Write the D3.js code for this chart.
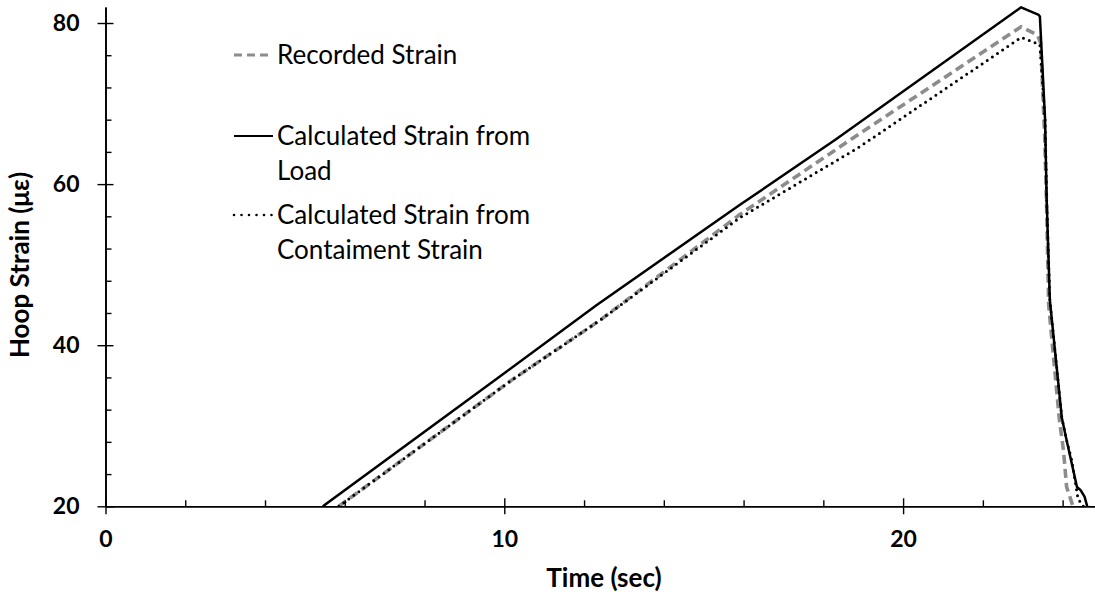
<!DOCTYPE html>
<html><head><meta charset="utf-8">
<script src="https://cdn.jsdelivr.net/npm/d3@7"></script>
<style>
body{margin:0;background:#fff;}
svg{display:block;font-family:Lato,"Open Sans",sans-serif;}
</style></head>
<body><svg id="c" width="1095" height="596"></svg>
<script>
// ---- data ----
const recordedTime   = [5.85, 10.18, 12.4, 15.9, 18.67, 22.96, 23.37, 23.45, 23.55, 23.6, 23.65, 23.92, 24.02, 24.10, 24.26, 24.32];
const recordedStrain = [20, 35.65, 43.1, 56.2, 65.47, 79.54, 78.5, 77.5, 66, 57, 45, 30.7, 27, 22.4, 20, 18];

const loadTime   = [5.45, 9.76, 12.31, 15.9, 18.3, 22.96, 23.4, 23.43, 23.56, 23.6, 23.68, 23.98, 24.10, 24.36, 24.45, 24.55, 24.7];
const loadStrain = [20, 35.65, 44.97, 57.4, 65.5, 81.95, 81.0, 80.8, 68, 58, 45.6, 31, 28.2, 22.4, 22.0, 21.2, 18.5];

const contTime   = [5.85, 10.18, 12.4, 15.9, 18.87, 22.96, 23.24, 23.43, 23.56, 23.6, 23.68, 23.98, 24.10, 24.23, 24.39, 24.5, 24.62];
const contStrain = [20, 35.65, 43.1, 55.8, 64.5, 78.2, 77.7, 77.3, 68, 58, 45.6, 31, 28.2, 25.7, 20.8, 20.3, 18.5];

const xMajorTicks = [0, 10, 20];
const xMinorTicks = [2, 4, 6, 8, 12, 14, 16, 18, 22, 24];
const yMajorTicks = [20, 40, 60, 80];
const yMinorTicks = [24, 28, 32, 36, 44, 48, 52, 56, 64, 68, 72, 76];

const legendNames = [["Recorded Strain"], ["Calculated Strain from", "Load"], ["Calculated Strain from", "Contaiment Strain"]];
const xTitle = "Time (sec)";
const yTitle = "Hoop Strain (με)";

// ---- layout ----
const svg = d3.select("#c");
const x = d3.scaleLinear().domain([0, 25]).range([105.5, 1102.5]);
const y = d3.scaleLinear().domain([20, 82]).range([506.3, 6.9]);

svg.append("clipPath").attr("id", "plot")
  .append("rect").attr("x", 105.5).attr("y", 0).attr("width", 1000).attr("height", 506.3);

const series = [
  {t: recordedTime, v: recordedStrain, color: "#8c8c8c", width: 3.6, dash: "9,5", cap: "butt"},
  {t: loadTime, v: loadStrain, color: "#000", width: 2.5, dash: null, cap: "butt"},
  {t: contTime, v: contStrain, color: "#000", width: 3, dash: "0,6.2", cap: "round"}
];

const line = d3.line().x(d => x(d[0])).y(d => y(d[1]));
const g = svg.append("g").attr("clip-path", "url(#plot)");
series.forEach(s => {
  g.append("path")
    .datum(s.t.map((t, i) => [t, s.v[i]]))
    .attr("d", line)
    .attr("fill", "none")
    .attr("stroke", s.color)
    .attr("stroke-width", s.width)
    .attr("stroke-linejoin", "round")
    .attr("stroke-linecap", s.cap)
    .attr("stroke-dasharray", s.dash);
});

// ---- axes ----
const axisStyle = sel => {
  sel.selectAll("path.domain").attr("stroke", "#000").attr("stroke-width", 1.6);
  sel.selectAll(".tick line").attr("stroke", "#000").attr("stroke-width", 1.4);
};

const xMinor = svg.append("g").attr("transform", `translate(0,${y(20)})`)
  .call(d3.axisBottom(x).tickValues(xMinorTicks).tickSize(-6).tickSizeOuter(0).tickFormat(""));
axisStyle(xMinor);
const xAx = svg.append("g").attr("transform", `translate(0,${y(20)})`)
  .call(d3.axisBottom(x).tickValues(xMajorTicks).tickSize(8).tickSizeOuter(0).tickPadding(16).tickFormat(d3.format("d")));
axisStyle(xAx);
xAx.selectAll(".tick line").attr("y1", -8).attr("y2", 8);
xAx.selectAll(".tick text").attr("font-size", 23).attr("font-weight", "bold").attr("fill", "#000")
  .attr("font-family", "Lato,sans-serif");

const yMinor = svg.append("g").attr("transform", `translate(${x(0)},0)`)
  .call(d3.axisLeft(y).tickValues(yMinorTicks).tickSize(-6).tickSizeOuter(0).tickFormat(""));
axisStyle(yMinor);
const yAx = svg.append("g").attr("transform", `translate(${x(0)},0)`)
  .call(d3.axisLeft(y).tickValues(yMajorTicks).tickSize(8).tickSizeOuter(0).tickPadding(18).tickFormat(d3.format("d")));
axisStyle(yAx);
yAx.selectAll(".tick line").attr("x1", -8).attr("x2", 8);
yAx.selectAll(".tick text").attr("font-size", 23).attr("font-weight", "bold").attr("fill", "#000")
  .attr("font-family", "Lato,sans-serif");

// titles
svg.append("text").attr("x", 604).attr("y", 587).attr("text-anchor", "middle")
  .attr("font-size", 26).attr("font-weight", "bold").text(xTitle);
svg.append("text").attr("transform", "translate(29,265) rotate(-90)").attr("text-anchor", "middle")
  .attr("font-size", 26).attr("font-weight", "bold").text(yTitle);

// ---- legend ----
const legendRowY = [55, 136, 215];
const lg = svg.append("g");
series.forEach((s, i) => {
  const yy = legendRowY[i];
  lg.append("line").attr("x1", 234).attr("x2", 273).attr("y1", yy).attr("y2", yy)
    .attr("stroke", s.color).attr("stroke-width", i === 0 ? 3.2 : (i === 1 ? 2 : 2.6))
    .attr("stroke-linecap", s.cap)
    .attr("stroke-dasharray", i === 0 ? "8,5" : (i === 2 ? "0,7.5" : null));
  legendNames[i].forEach((txt, k) => {
    lg.append("text").attr("x", 277).attr("y", yy + 9 + k * 35)
      .attr("font-size", 26).attr("fill", "#000").text(txt);
  });
});
</script></body></html>
